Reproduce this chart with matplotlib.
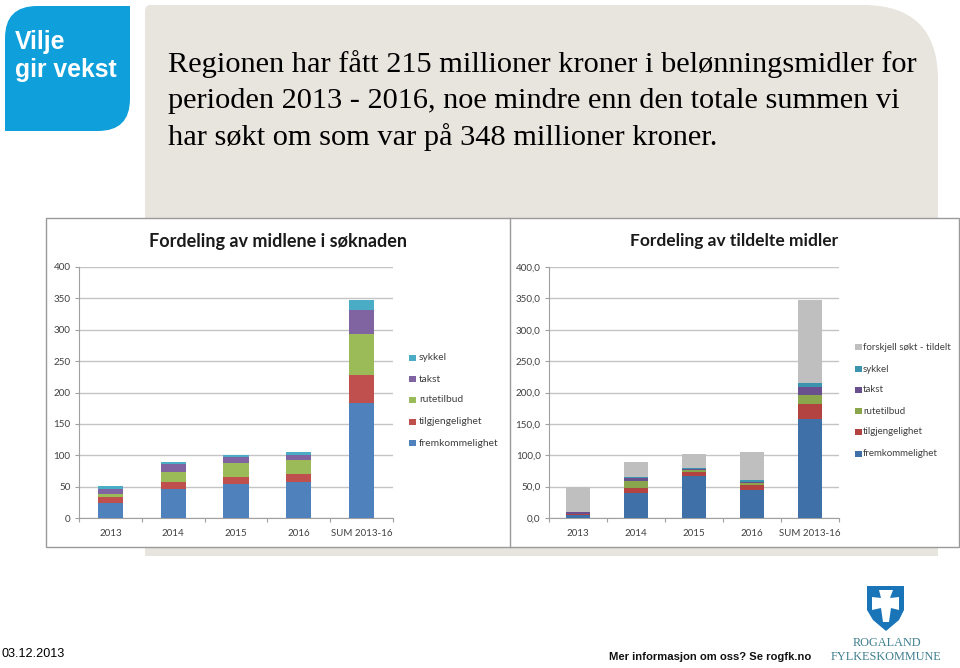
import matplotlib
matplotlib.use('Agg')
import matplotlib.pyplot as plt
from matplotlib.patches import PathPatch, Polygon, Rectangle
from matplotlib.path import Path
import numpy as np

# data
categories = ['2013', '2014', '2015', '2016', 'SUM 2013-16']

# left chart
fremkommelighet_a = [24.5, 46, 54, 57.5, 183]
tilgjengelighet_a = [9.5, 11.5, 11.5, 12.5, 45]
rutetilbud_a = [4, 16, 22.5, 22.5, 65]
takst_a = [8, 12, 10, 8, 39]
sykkel_a = [5, 3.5, 3, 4.5, 16]

# right chart
fremkommelighet_b = [4, 39.5, 67.5, 45, 158]
tilgjengelighet_b = [2, 8.5, 6.5, 8, 24]
rutetilbud_b = [1, 11.5, 2.5, 3, 14]
takst_b = [2, 3.5, 1, 2, 12]
sykkel_b = [0.5, 2, 2.5, 2, 7]
forskjell_b = [40.5, 24, 21.5, 45, 132]

yticks_a = [0, 50, 100, 150, 200, 250, 300, 350, 400]
ylabels_a = ['0', '50', '100', '150', '200', '250', '300', '350', '400']
ylabels_b = ['0,0', '50,0', '100,0', '150,0', '200,0', '250,0', '300,0', '350,0', '400,0']

title_lines = ['Regionen har fått 215 millioner kroner i belønningsmidler for',
               'perioden 2013 - 2016, noe mindre enn den totale summen vi',
               'har søkt om som var på 348 millioner kroner.']

colors_a = {'fremkommelighet': '#4f81bd', 'tilgjengelighet': '#c0504d', 'rutetilbud': '#9bbb59',
            'takst': '#8064a2', 'sykkel': '#4bacc6'}
# the right chart is a little darker in the picture
colors_b = {'fremkommelighet': '#3f70a8', 'tilgjengelighet': '#b24340', 'rutetilbud': '#8aa64c',
            'takst': '#6a4f8f', 'sykkel': '#3c93ad', 'forskjell': '#bfbfbf'}
W, H = 960, 668
chart_font = 'Lato'

fig = plt.figure(figsize=(W / 100, H / 100), dpi=100, facecolor='white')

# background layer in pixel coordinates
bg = fig.add_axes([0, 0, 1, 1])
bg.set_xlim(0, W)
bg.set_ylim(H, 0)
bg.axis('off')


def rounded(pts_tl, pts_br, rtl, rtr, rbr, rbl):
    # box with its own radius per corner
    x0, y0 = pts_tl
    x1, y1 = pts_br
    verts = [(x0 + rtl, y0), (x1 - rtr, y0), (x1, y0), (x1, y0 + rtr), (x1, y1 - rbr), (x1, y1),
             (x1 - rbr, y1), (x0 + rbl, y1), (x0, y1), (x0, y1 - rbl), (x0, y0 + rtl), (x0, y0), (x0 + rtl, y0)]
    codes = [Path.MOVETO, Path.LINETO, Path.CURVE3, Path.CURVE3, Path.LINETO, Path.CURVE3, Path.CURVE3,
             Path.LINETO, Path.CURVE3, Path.CURVE3, Path.LINETO, Path.CURVE3, Path.CURVE3]
    return Path(verts, codes)


# grey panel behind the text and charts
panel = rounded((145, 5), (938, 556), 6, 75, 0, 0)
bg.add_patch(PathPatch(panel, fc='#e8e4de', ec='none'))

# blue logo
logo = rounded((5, 6), (130, 131), 32, 0, 32, 0)
bg.add_patch(PathPatch(logo, fc='#0fa0dc', ec='none'))
bg.text(15, 49, 'Vilje', fontsize=17.8, color='white', fontweight='bold', family='Liberation Sans')
bg.text(15, 77, 'gir vekst', fontsize=17.8, color='white', fontweight='bold', family='Liberation Sans')

# heading text
for i, line in enumerate(title_lines):
    bg.text(168.5, 72 + i * 36.5, line, fontsize=21.9, color='black', family='Liberation Serif')

# white chart panel
bg.add_patch(Rectangle((45.5, 218), 913, 329, fc='white', ec='#9a9a9a', lw=1))
bg.plot([509.5, 509.5], [218, 547], color='#9a9a9a', lw=1)


def chart(left, right, series, colors, ylabels, title, title_x, title_size):
    ax = fig.add_axes([left / W, 1 - 518 / H, (right - left) / W, (518 - 267) / H])
    ax.patch.set_alpha(0)
    x = np.arange(len(categories))
    bottom = np.zeros(len(categories))
    for key, vals in series:
        ax.bar(x, vals, width=0.4, bottom=bottom, color=colors[key], zorder=3)
        bottom = bottom + np.array(vals)
    ax.set_xlim(-0.5, len(categories) - 0.5)
    ax.set_ylim(0, 400)
    ax.set_yticks(yticks_a)
    ax.set_yticklabels(ylabels, fontsize=7.1, color='#404040', family=chart_font)
    ax.set_xticks(x)
    ax.set_xticklabels(categories, fontsize=7, color='#404040', family=chart_font)
    ax.set_xticks(np.arange(len(categories) + 1) - 0.5, minor=True)
    ax.tick_params(axis='x', which='major', length=0, pad=8)
    ax.tick_params(axis='x', which='minor', length=3, color='#a0a0a0', width=0.8)
    ax.tick_params(axis='y', length=3, color='#a0a0a0', width=0.8, pad=3)
    ax.grid(axis='y', color='#c4c4c4', lw=1, zorder=0)
    for s in ['top', 'right']:
        ax.spines[s].set_visible(False)
    for s in ['left', 'bottom']:
        ax.spines[s].set_color('#a0a0a0')
    bg.text(title_x, 241, title, fontsize=title_size, fontweight='bold', color='#1a1a1a', family=chart_font,
            ha='center', va='center')
    return ax


series_a = [('fremkommelighet', fremkommelighet_a), ('tilgjengelighet', tilgjengelighet_a),
            ('rutetilbud', rutetilbud_a), ('takst', takst_a), ('sykkel', sykkel_a)]
series_b = [('fremkommelighet', fremkommelighet_b), ('tilgjengelighet', tilgjengelighet_b),
            ('rutetilbud', rutetilbud_b), ('takst', takst_b), ('sykkel', sykkel_b),
            ('forskjell', forskjell_b)]

chart(79, 393, series_a, colors_a, ylabels_a, 'Fordeling av midlene i søknaden', 278, 13)
chart(549, 839, series_b, colors_b, ylabels_b, 'Fordeling av tildelte midler', 734.5, 12.5)


def legend(x, ys, entries, colors, offset, size):
    for y, (key, label) in zip(ys, entries):
        bg.add_patch(Rectangle((x, y - 3), 7, 6, fc=colors[key], ec='none'))
        bg.text(x + offset, y, label, fontsize=size, color='#404040', va='center', family=chart_font)


legend(409, [443, 422, 400, 379, 358],
       [('fremkommelighet', 'fremkommelighet'), ('tilgjengelighet', 'tilgjengelighet'),
        ('rutetilbud', 'rutetilbud'), ('takst', 'takst'), ('sykkel', 'sykkel')], colors_a, 10, 7.4)
legend(855, [454, 432, 411, 390, 369, 347],
       [('fremkommelighet', 'fremkommelighet'), ('tilgjengelighet', 'tilgjengelighet'),
        ('rutetilbud', 'rutetilbud'), ('takst', 'takst'), ('sykkel', 'sykkel'),
        ('forskjell', 'forskjell søkt - tildelt')], colors_b, 8, 7.0)

# footer
bg.text(2, 657, '03.12.2013', fontsize=9.1, color='black', family='Liberation Sans')
bg.text(609, 660, 'Mer informasjon om oss? Se rogfk.no', fontsize=8.15, color='#111111',
        fontweight='bold', family='Liberation Sans')

# county shield
shield = [(867, 586), (904, 586), (904, 610), (899, 620), (886, 631), (873, 620), (867, 610)]
bg.add_patch(Polygon(shield, fc='#1a74b8', ec='none'))
cross = [(879, 590), (893, 590), (890, 598), (899, 597), (899, 610), (891, 608), (889, 622),
         (883, 622), (881, 608), (872, 610), (872, 597), (881, 598)]
bg.add_patch(Polygon(cross, fc='white', ec='none'))
bg.text(886.5, 645.5, 'ROGALAND', fontsize=8.8, color='#3f7f8f', ha='center', family='Liberation Serif')
bg.text(886.5, 659.5, 'FYLKESKOMMUNE', fontsize=8.8, color='#3f7f8f', ha='center', family='Liberation Serif')

fig.savefig('out.png', dpi=100)
